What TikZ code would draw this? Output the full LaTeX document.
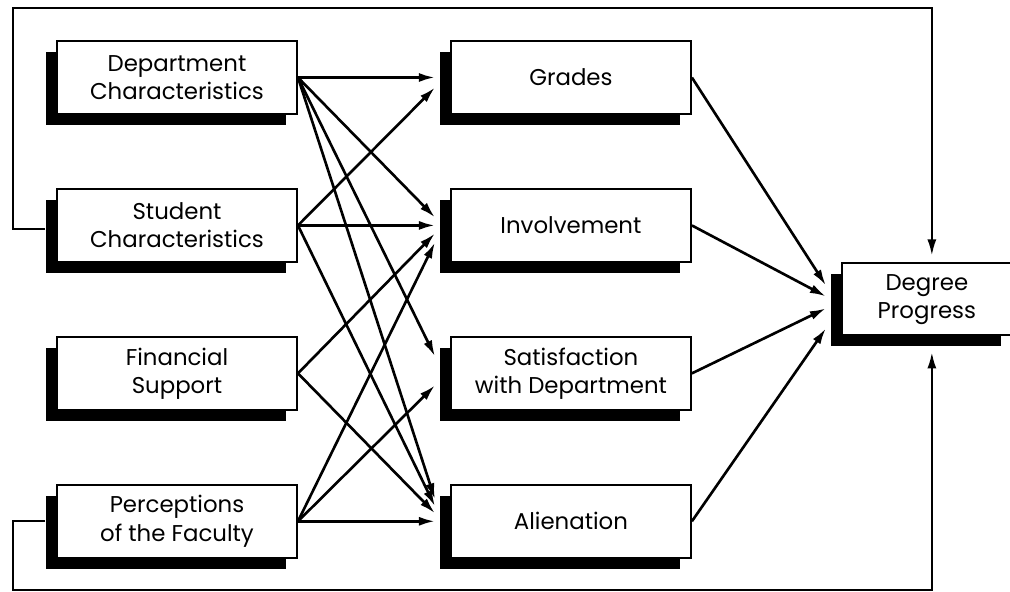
\documentclass[tikz,border=0pt]{standalone}
\usepackage{fontspec}
\setmainfont{Poppins}
\usetikzlibrary{arrows.meta,positioning,shadows,calc}
\tikzset{
  factor/.style={rectangle,draw=black,line width=1.1pt,fill=white,minimum width=4.8cm,minimum height=1.46cm,align=center,font=\fontsize{13}{16}\selectfont,drop shadow={shadow xshift=-0.22cm,shadow yshift=-0.22cm,fill=black,opacity=1}},
  result/.style={factor,minimum width=3.4cm,minimum height=1.44cm},
  arrow/.style={-{Latex[length=3.2mm,width=1.8mm]},line width=1.5pt},
  line/.style={-{Latex[length=3.2mm,width=1.8mm]},line width=1.2pt}
}
\begin{document}
\begin{tikzpicture}[node distance=1.46cm and 3.04cm]
  \useasboundingbox (-3.54,1.55) rectangle (16.66,-10.29);
  \node[factor] (dept) {Department\\Characteristics};
  \node[factor, below=of dept] (stud) {Student\\Characteristics};
  \node[factor, below=of stud] (fin) {Financial\\Support};
  \node[factor, below=of fin] (perc) {Perceptions\\of the Faculty};
  \node[factor, right=of dept] (grad) {Grades};
  \node[factor, right=of stud] (inv) {Involvement};
  \node[factor, right=of fin] (sat) {Satisfaction\\with Department};
  \node[factor, right=of perc] (alien) {Alienation};
  \coordinate (mid) at ($(inv.east)!0.5!(sat.east)$);
  \node[result, right=2.98cm of mid] (deg) {Degree\\Progress};
  % background to outcomes
  \draw[arrow] (dept.east) -- ([xshift=-0.3cm]grad.west);
  \draw[arrow] (dept.east) -- ([xshift=-0.3cm,yshift=0.16cm]inv.west);
  \draw[arrow] (dept.east) -- ([xshift=-0.3cm,yshift=0.34cm]sat.west);
  \draw[arrow] (dept.east) -- ([xshift=-0.3cm,yshift=0.44cm]alien.west);
  \draw[arrow] (stud.east) -- ([xshift=-0.3cm,yshift=-0.2cm]grad.west);
  \draw[arrow] (stud.east) -- ([xshift=-0.3cm]inv.west);
  \draw[arrow] (stud.east) -- ([xshift=-0.3cm,yshift=0.3cm]alien.west);
  \draw[arrow] (fin.east) -- ([xshift=-0.3cm,yshift=-0.16cm]inv.west);
  \draw[arrow] (fin.east) -- ([xshift=-0.3cm,yshift=0.16cm]alien.west);
  \draw[arrow] (perc.east) -- ([xshift=-0.3cm,yshift=-0.34cm]inv.west);
  \draw[arrow] (perc.east) -- ([xshift=-0.3cm,yshift=-0.24cm]sat.west);
  \draw[arrow] (perc.east) -- ([xshift=-0.3cm]alien.west);
  % outcomes to degree progress
  \draw[arrow] (grad.east) -- ([xshift=-0.3cm,yshift=0.28cm]deg.west);
  \draw[arrow] (inv.east) -- ([xshift=-0.3cm,yshift=0.06cm]deg.west);
  \draw[arrow] (sat.east) -- ([xshift=-0.3cm,yshift=-0.18cm]deg.west);
  \draw[arrow] (alien.east) -- ([xshift=-0.3cm,yshift=-0.58cm]deg.west);
  % direct paths
  \coordinate (tl) at (-3.28,1.39);
  \coordinate (bl) at (-3.28,-10.25);
  \draw[line] ([xshift=-0.22cm,yshift=-0.08cm]stud.west) -| (tl) -| ([xshift=0.1cm,yshift=0.14cm]deg.north);
  \draw[line] ([xshift=-0.22cm]perc.west) -| (bl) -| ([xshift=0.1cm,yshift=-0.32cm]deg.south);
\end{tikzpicture}
\end{document}
